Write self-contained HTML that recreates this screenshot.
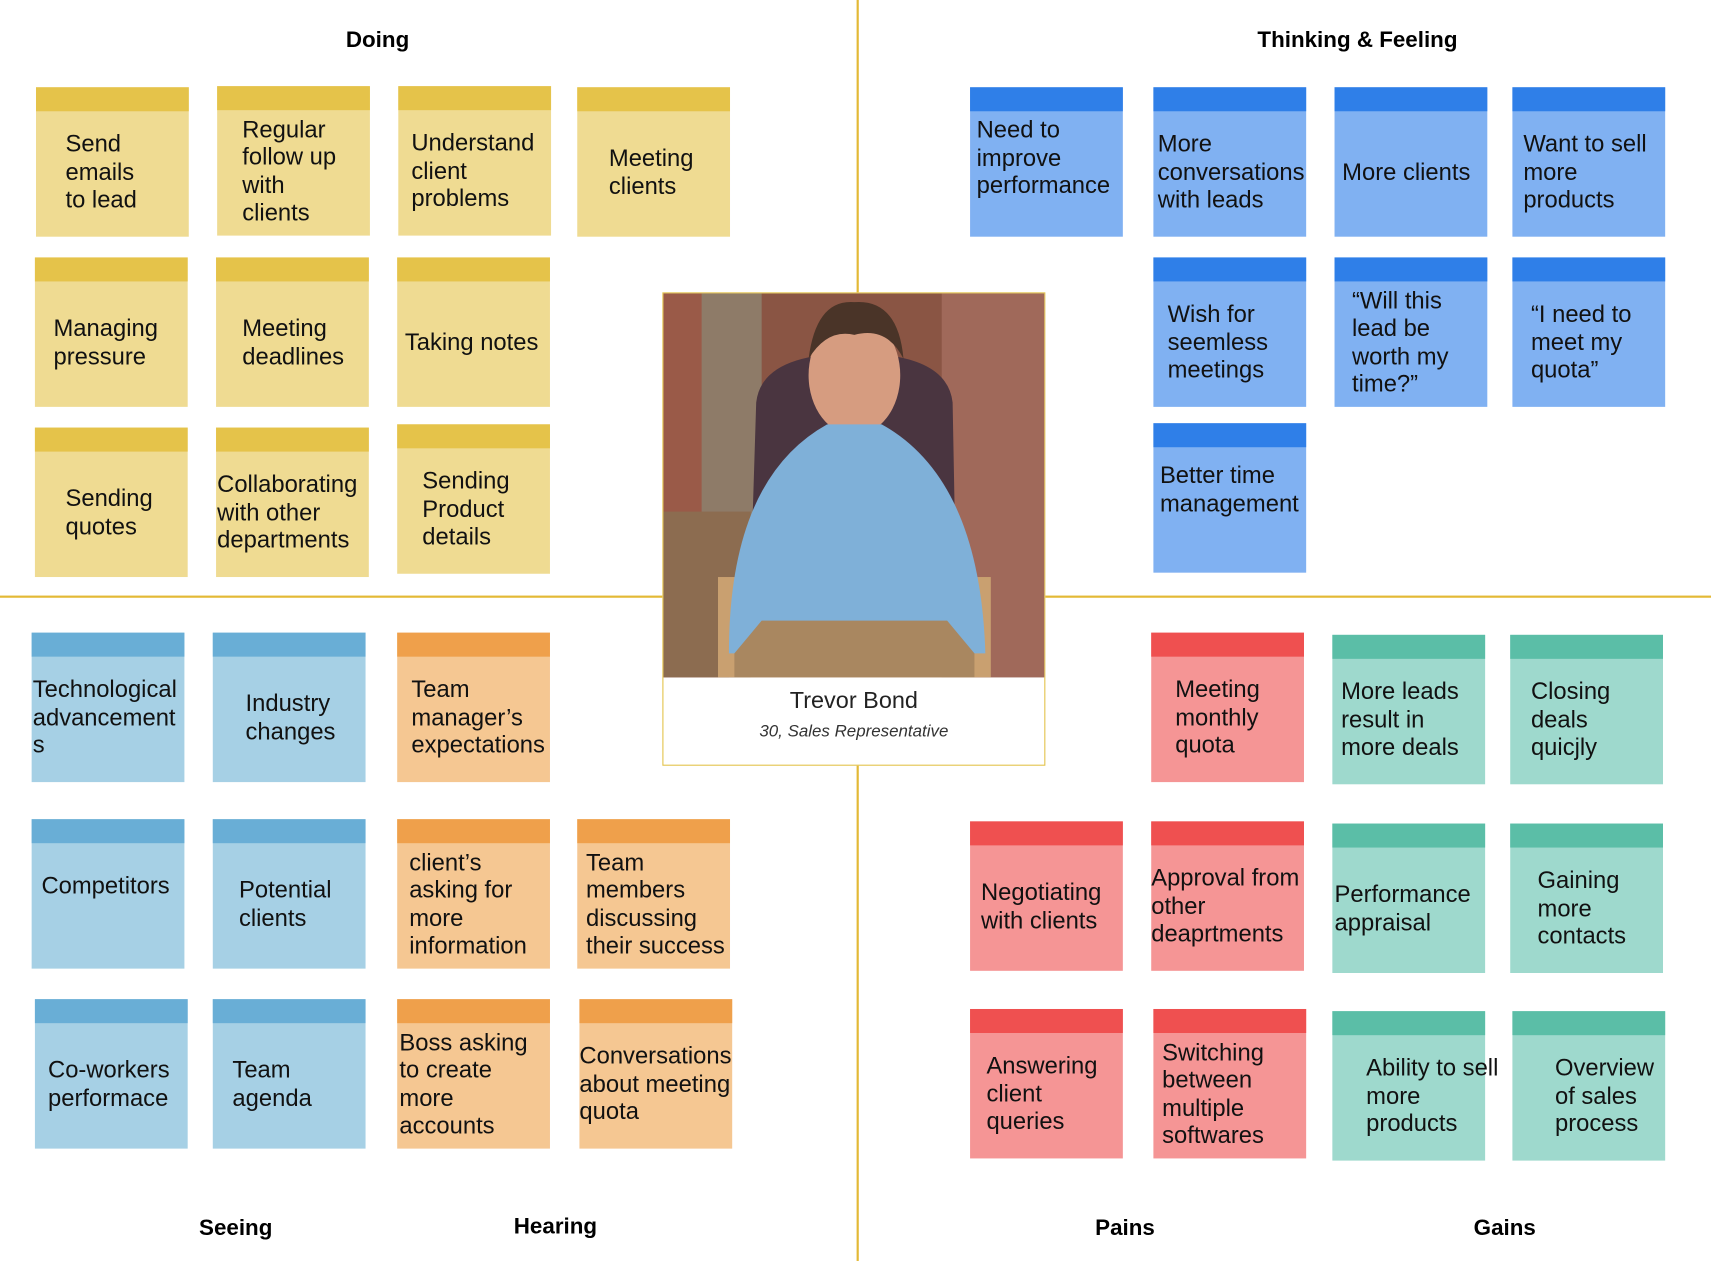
<!DOCTYPE html>
<html><head><meta charset="utf-8"><style>
html,body{margin:0;padding:0;background:#fff;width:1711px;height:1261px;overflow:hidden}
#w{position:absolute;left:0;top:0;width:1568px;height:1156px;transform:scale(1.0912,1.0908);transform-origin:0 0;font-family:"Liberation Sans",sans-serif}
.c{position:absolute;width:140px;height:137px;box-sizing:border-box;border-top:22px solid;display:flex;flex-direction:column;justify-content:center;font-size:21.8px;line-height:25.5px;color:#111;white-space:nowrap;padding-bottom:4px}
.y{background:#efdb92;border-color:#e5c34a}
.b{background:#80b1f2;border-color:#2f7fe8}
.s{background:#a6d0e5;border-color:#69aed6}
.o{background:#f5c792;border-color:#efa04b}
.r{background:#f59595;border-color:#ef5050}
.g{background:#9ed9cd;border-color:#5bbea7}
.t{position:absolute;font-weight:bold;font-size:20.5px;transform:translateX(-50%);white-space:nowrap}
.vl{position:absolute;left:785px;top:0;width:1.5px;height:1156px;background:#e3b936}
.hl{position:absolute;left:0;top:546px;width:1568px;height:1.5px;background:#e3b936}
</style></head><body><div id="w">
<div class="vl"></div><div class="hl"></div>
<div class="t" style="left:346px;top:25px">Doing</div>
<div class="t" style="left:1244px;top:25px">Thinking &amp; Feeling</div>
<div class="t" style="left:216px;top:1114px">Seeing</div>
<div class="t" style="left:509px;top:1113px">Hearing</div>
<div class="t" style="left:1031px;top:1114px">Pains</div>
<div class="t" style="left:1379px;top:1114px">Gains</div>

<div class="c y" style="left:33px;top:80px;padding-left:27px">Send<br>emails<br>to lead</div>
<div class="c y" style="left:199px;top:79px;padding-left:23px">Regular<br>follow up<br>with<br>clients</div>
<div class="c y" style="left:365px;top:79px;padding-left:12px">Understand<br>client<br>problems</div>
<div class="c y" style="left:529px;top:80px;padding-left:29px">Meeting<br>clients</div>
<div class="c y" style="left:32px;top:236px;padding-left:17px">Managing<br>pressure</div>
<div class="c y" style="left:198px;top:236px;padding-left:24px">Meeting<br>deadlines</div>
<div class="c y" style="left:364px;top:236px;padding-left:7px">Taking notes</div>
<div class="c y" style="left:32px;top:392px;padding-left:28px">Sending<br>quotes</div>
<div class="c y" style="left:198px;top:392px;padding-left:1px">Collaborating<br>with other<br>departments</div>
<div class="c y" style="left:364px;top:389px;padding-left:23px">Sending<br>Product<br>details</div>

<div class="c b" style="left:889px;top:80px;padding-left:6px;justify-content:flex-start;padding-top:4px">Need to<br>improve<br>performance</div>
<div class="c b" style="left:1057px;top:80px;padding-left:4px">More<br>conversations<br>with leads</div>
<div class="c b" style="left:1223px;top:80px;padding-left:7px">More clients</div>
<div class="c b" style="left:1386px;top:80px;padding-left:10px">Want to sell<br>more<br>products</div>
<div class="c b" style="left:1057px;top:236px;padding-left:13px">Wish for<br>seemless<br>meetings</div>
<div class="c b" style="left:1223px;top:236px;padding-left:16px">“Will this<br>lead be<br>worth my<br>time?”</div>
<div class="c b" style="left:1386px;top:236px;padding-left:17px">“I need to<br>meet my<br>quota”</div>
<div class="c b" style="left:1057px;top:388px;padding-left:6px;justify-content:flex-start;padding-top:13px">Better time<br>management</div>

<div class="c s" style="left:29px;top:580px;padding-left:1px">Technological<br>advancement<br>s</div>
<div class="c s" style="left:195px;top:580px;padding-left:30px">Industry<br>changes</div>
<div class="c s" style="left:29px;top:751px;padding-left:9px;justify-content:flex-start;padding-top:26px">Competitors</div>
<div class="c s" style="left:195px;top:751px;padding-left:24px">Potential<br>clients</div>
<div class="c s" style="left:32px;top:916px;padding-left:12px">Co-workers<br>performace</div>
<div class="c s" style="left:195px;top:916px;padding-left:18px">Team<br>agenda</div>

<div class="c o" style="left:364px;top:580px;padding-left:13px">Team<br>manager’s<br>expectations</div>
<div class="c o" style="left:364px;top:751px;padding-left:11px">client’s<br>asking for<br>more<br>information</div>
<div class="c o" style="left:529px;top:751px;padding-left:8px">Team<br>members<br>discussing<br>their success</div>
<div class="c o" style="left:364px;top:916px;padding-left:2px">Boss asking<br>to create<br>more<br>accounts</div>
<div class="c o" style="left:531px;top:916px;padding-left:0px">Conversations<br>about meeting<br>quota</div>

<div class="c r" style="left:1055px;top:580px;padding-left:22px">Meeting<br>monthly<br>quota</div>
<div class="c r" style="left:889px;top:753px;padding-left:10px">Negotiating<br>with clients</div>
<div class="c r" style="left:1055px;top:753px;padding-left:0px">Approval from<br>other<br>deaprtments</div>
<div class="c r" style="left:889px;top:925px;padding-left:15px">Answering<br>client<br>queries</div>
<div class="c r" style="left:1057px;top:925px;padding-left:8px">Switching<br>between<br>multiple<br>softwares</div>

<div class="c g" style="left:1221px;top:582px;padding-left:8px">More leads<br>result in<br>more deals</div>
<div class="c g" style="left:1384px;top:582px;padding-left:19px">Closing<br>deals<br>quicjly</div>
<div class="c g" style="left:1221px;top:755px;padding-left:2px">Performance<br>appraisal</div>
<div class="c g" style="left:1384px;top:755px;padding-left:25px">Gaining<br>more<br>contacts</div>
<div class="c g" style="left:1221px;top:927px;padding-left:31px">Ability to sell<br>more<br>products</div>
<div class="c g" style="left:1386px;top:927px;padding-left:39px">Overview<br>of sales<br>process</div>

<div style="position:absolute;left:607px;top:268px;width:351px;height:434px;box-sizing:border-box;border:1.5px solid #e3c24a;background:#fff">
<svg width="349" height="352" viewBox="0 0 349 352" style="display:block">
<rect width="349" height="352" fill="#8a5544"/>
<rect x="0" y="0" width="60" height="352" fill="#9a5a48"/>
<rect x="35" y="0" width="55" height="220" fill="#8e7b68"/>
<rect x="255" y="0" width="94" height="352" fill="#a0695a"/>
<rect x="0" y="200" width="80" height="152" fill="#8c6c50"/>
<path d="M85 100 Q90 55 175 55 Q260 55 265 100 L268 260 L80 260 Z" fill="#4a3540"/>
<rect x="50" y="260" width="250" height="92" fill="#c9a070"/>
<ellipse cx="175" cy="75" rx="42" ry="55" fill="#d69c80"/>
<path d="M133 60 Q140 5 175 8 Q215 5 220 60 Q205 30 175 38 Q150 32 133 60Z" fill="#4a3428"/>
<path d="M60 330 Q60 170 150 120 L200 120 Q290 170 295 330 Z" fill="#7fb0d8"/>
<path d="M65 330 L90 300 L260 300 L285 330 L285 352 L65 352Z" fill="#a98760"/>
</svg>
<div style="text-align:center;font-size:21.5px;color:#222;margin-top:9px">Trevor Bond</div>
<div style="text-align:center;font-size:15.5px;font-style:italic;color:#333;margin-top:7px">30, Sales Representative</div>
</div>
</div></body></html>
